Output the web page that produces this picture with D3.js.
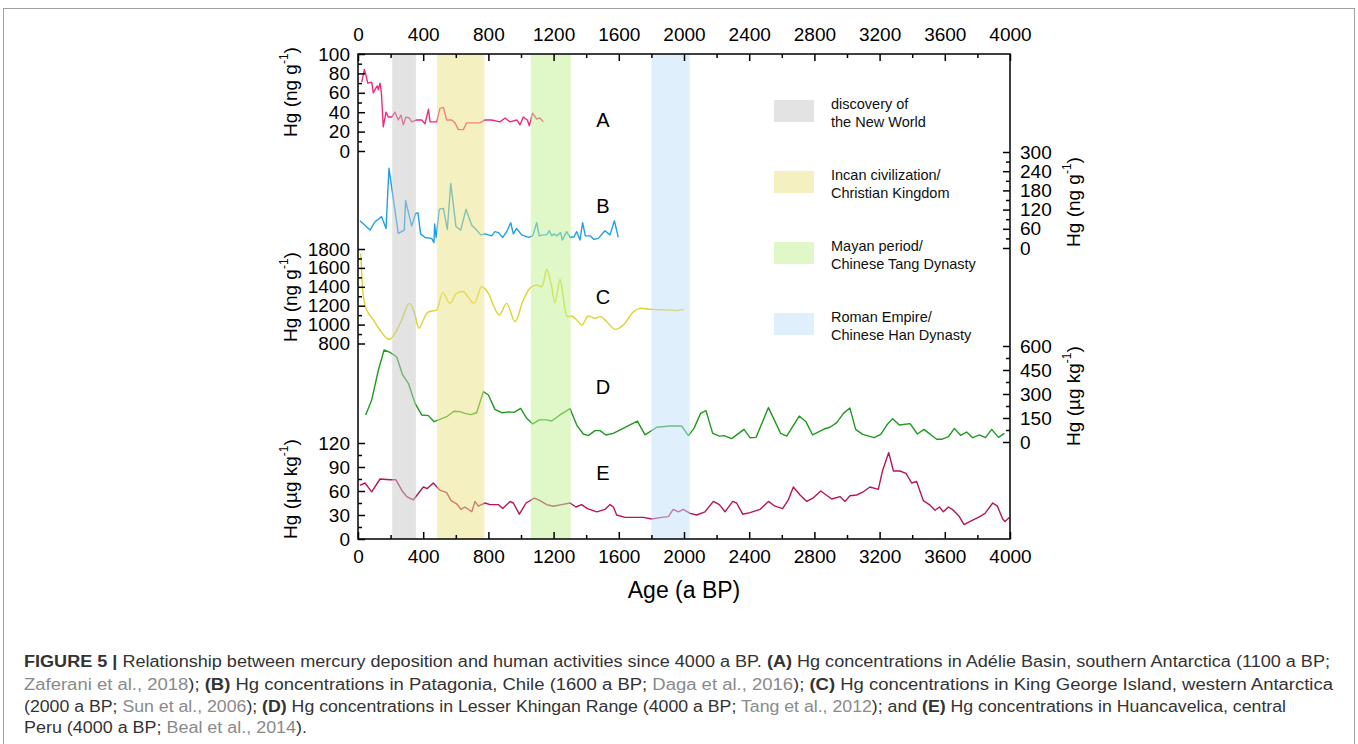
<!DOCTYPE html>
<html>
<head>
<meta charset="utf-8">
<script src="https://cdn.jsdelivr.net/npm/d3@7"></script>
<style>
  body { margin: 0; background: #fff; }
  svg { display: block; }
  text { font-family: Arial, "Liberation Sans", sans-serif; }
</style>
</head>
<body>
<script>
// ages (a BP) and Hg values
const seriesA = [[23,71],[39,84],[49,78],[60,70],[84,71],[94,60],[110,65],[119,67],[125,63],[135,70],[143,61],[155,25],[172,40],[186,35],[207,35],[227,40],[247,32],[264,37],[278,27],[294,35],[315,34],[329,30],[360,32],[391,32],[411,28],[432,43],[442,30],[483,30],[503,44],[524,45],[544,32],[575,32],[595,29],[616,22],[646,22],[667,29],[748,29],[779,32],[820,32],[871,30],[902,34],[933,30],[974,32],[994,27],[1014,35],[1039,32],[1051,26],[1071,39],[1096,33],[1116,34],[1137,30]];
const seriesB = [[12,85],[74,56],[104,82],[145,98],[172,61],[190,249],[247,46],[284,56],[292,148],[329,69],[354,108],[368,110],[384,44],[411,33],[452,30],[466,17],[470,75],[479,33],[499,121],[524,124],[548,58],[569,202],[601,67],[630,56],[663,121],[697,72],[728,56],[753,41],[779,44],[820,38],[840,51],[861,48],[888,33],[912,51],[937,79],[953,44],[973,61],[1004,41],[1045,33],[1072,38],[1096,79],[1112,38],[1137,41],[1157,41],[1174,54],[1188,38],[1202,44],[1219,38],[1243,48],[1254,25],[1280,51],[1301,33],[1325,35],[1342,51],[1362,25],[1378,79],[1395,38],[1423,38],[1448,27],[1475,30],[1515,54],[1546,41],[1573,85],[1597,33]];
const seriesC = [[17,1754],[23,1543],[33,1295],[53,1154],[94,1049],[135,943],[176,855],[200,848],[227,908],[268,1049],[315,1225],[344,1136],[374,961],[401,1049],[425,1126],[462,1147],[483,1154],[520,1338],[564,1225],[605,1331],[646,1348],[712,1225],[759,1401],[800,1331],[834,1189],[867,1102],[912,1225],[963,1031],[1014,1260],[1060,1395],[1096,1419],[1127,1401],[1158,1585],[1184,1437],[1209,1232],[1239,1479],[1256,1331],[1284,1084],[1311,1091],[1342,1049],[1373,996],[1413,1091],[1454,1067],[1489,1084],[1526,1031],[1577,950],[1628,996],[1690,1136],[1730,1172],[1791,1162],[1914,1154],[1960,1150],[1985,1160],[2000,1150]];
const seriesD = [[47,169],[84,262],[125,450],[160,575],[200,558],[237,533],[274,419],[309,367],[350,242],[391,169],[432,165],[466,127],[503,142],[544,158],[589,192],[626,190],[656,179],[691,171],[728,183],[769,315],[800,294],[840,204],[882,183],[928,188],[957,185],[998,210],[1035,148],[1072,113],[1112,138],[1158,138],[1188,131],[1239,169],[1301,208],[1342,106],[1382,50],[1413,40],[1454,71],[1485,71],[1521,44],[1566,54],[1714,131],[1761,44],[1833,92],[1914,100],[1985,100],[2027,40],[2061,85],[2102,179],[2135,196],[2176,54],[2217,37],[2245,40],[2292,21],[2368,79],[2405,27],[2442,29],[2518,215],[2593,54],[2630,37],[2707,162],[2748,127],[2789,44],[2859,81],[2896,92],[2937,121],[2978,179],[3018,212],[3053,79],[3096,48],[3166,27],[3207,48],[3244,106],[3280,146],[3321,106],[3387,115],[3432,50],[3472,79],[3550,17],[3581,17],[3622,33],[3659,85],[3697,42],[3734,62],[3771,27],[3812,44],[3849,27],[3888,79],[3929,29],[3966,54]];
const seriesE = [[12,67],[43,70],[84,59],[135,75],[196,74],[233,74],[268,61],[299,53],[340,49],[401,65],[425,63],[462,70],[503,61],[544,58],[571,48],[605,44],[632,37],[656,40],[698,34],[718,47],[738,41],[779,45],[810,43],[861,43],[888,38],[933,47],[953,45],[990,31],[1031,45],[1082,51],[1117,48],[1158,43],[1199,41],[1249,43],[1301,45],[1337,40],[1372,43],[1407,38],[1465,34],[1515,37],[1546,43],[1567,40],[1587,30],[1638,27],[1699,27],[1751,27],[1802,25],[1863,27],[1904,28],[1934,37],[1965,34],[1996,37],[2037,32],[2078,30],[2129,34],[2180,47],[2217,43],[2252,34],[2299,47],[2323,45],[2360,31],[2405,33],[2466,37],[2518,47],[2558,41],[2605,38],[2640,49],[2671,65],[2712,55],[2753,47],[2790,51],[2839,60],[2906,50],[2957,53],[2988,47],[3018,54],[3059,55],[3100,59],[3141,65],[3192,62],[3219,86],[3256,108],[3285,85],[3325,85],[3362,82],[3397,70],[3427,72],[3468,48],[3505,43],[3540,36],[3567,40],[3591,34],[3622,40],[3652,36],[3689,28],[3718,18],[3765,23],[3806,27],[3847,32],[3894,45],[3923,41],[3955,25],[3969,22],[3996,27]];

const ageTicks = d3.range(0, 4001, 400);
const ticksA = [0, 20, 40, 60, 80, 100];
const ticksB = [0, 60, 120, 180, 240, 300];
const ticksC = [800, 1000, 1200, 1400, 1600, 1800];
const ticksD = [0, 150, 300, 450, 600];
const ticksE = [0, 30, 60, 90, 120];

const periodNames = [["discovery of", "the New World"], ["Incan civilization/", "Christian Kingdom"], ["Mayan period/", "Chinese Tang Dynasty"], ["Roman Empire/", "Chinese Han Dynasty"]];
const periodStart = [210, 485, 1060, 1800];
const periodEnd = [355, 775, 1305, 2035];

const captionLines = [
  [["FIGURE 5 | ", "b"], ["Relationship between mercury deposition and human activities since 4000 a BP. ", "n"], ["(A)", "b"], [" Hg concentrations in Adélie Basin, southern Antarctica (1100 a BP;", "n"]],
  [["Zaferani et al., 2018", "c"], ["); ", "n"], ["(B)", "b"], [" Hg concentrations in Patagonia, Chile (1600 a BP; ", "n"], ["Daga et al., 2016", "c"], ["); ", "n"], ["(C)", "b"], [" Hg concentrations in King George Island, western Antarctica", "n"]],
  [["(2000 a BP; ", "n"], ["Sun et al., 2006", "c"], ["); ", "n"], ["(D)", "b"], [" Hg concentrations in Lesser Khingan Range (4000 a BP; ", "n"], ["Tang et al., 2012", "c"], ["); and ", "n"], ["(E)", "b"], [" Hg concentrations in Huancavelica, central", "n"]],
  [["Peru (4000 a BP; ", "n"], ["Beal et al., 2014", "c"], [").", "n"]]
];

const W = 1358, H = 744;
const svg = d3.select("body").append("svg").attr("width", W).attr("height", H);

// outer frame
svg.append("rect")
  .attr("x", 3.5).attr("y", 8.5).attr("width", 1351).attr("height", 780)
  .attr("fill", "none").attr("stroke", "#a0a0a0").attr("stroke-width", 1);

const plotL = 358, plotR = 1010, plotT = 54, plotB = 539;
const x = d3.scaleLinear().domain([0, 4000]).range([plotL, plotR]);
const yA = d3.scaleLinear().domain([0, 100]).range([151, 54]);
const yB = d3.scaleLinear().domain([0, 300]).range([248, 152]);
const yC = d3.scaleLinear().domain([800, 1800]).range([343.5, 249]);
const yD = d3.scaleLinear().domain([0, 600]).range([442, 346]);
const yE = d3.scaleLinear().domain([0, 120]).range([539, 443]);

function drawSeries(data, y, color, curve) {
  const line = d3.line()
    .x(d => x(d[0]))
    .y(d => y(d[1]))
    .curve(curve || d3.curveLinear);
  svg.append("path")
    .datum(data)
    .attr("d", line)
    .attr("fill", "none")
    .attr("stroke", color)
    .attr("stroke-width", 1.4)
    .attr("stroke-linejoin", "round");
}

drawSeries(seriesA, yA, "#ee2a7b");
drawSeries(seriesB, yB, "#1f9fe8");
drawSeries(seriesC, yC, "#dcd32c", d3.curveCatmullRom);
drawSeries(seriesD, yD, "#1f9a1f");
drawSeries(seriesE, yE, "#b3165f");

// shaded periods sit over the curves, half transparent
const bandColors = ["#c7c7c7", "rgb(235,225,129)", "rgb(193,239,145)", "rgb(191,225,249)"];
svg.selectAll(".band")
  .data(periodStart)
  .enter()
  .append("rect")
  .attr("class", "band")
  .attr("x", d => x(d))
  .attr("width", (d, i) => x(periodEnd[i]) - x(d))
  .attr("y", plotT)
  .attr("height", plotB - plotT)
  .attr("fill", (d, i) => bandColors[i])
  .attr("opacity", 0.5);

// frame
svg.append("rect")
  .attr("x", plotL).attr("y", plotT)
  .attr("width", plotR - plotL).attr("height", plotB - plotT)
  .attr("fill", "none").attr("stroke", "#000").attr("stroke-width", 1.5);

function styleAxis(g) {
  g.select(".domain").remove();
  g.attr("font-family", "Arial, 'Liberation Sans', sans-serif").attr("font-size", 19);
  g.selectAll("line").attr("stroke-width", 1.5);
  g.selectAll("text").attr("fill", "#000");
}

function addAxis(axisFn, scale, majors, step, pad, translate) {
  const minors = [];
  for (let i = 0; i < majors.length - 1; i++) minors.push(majors[i] + step);
  svg.append("g").attr("transform", translate)
    .call(axisFn(scale).tickValues(minors).tickSize(-4).tickFormat(""))
    .call(styleAxis);
  svg.append("g").attr("transform", translate)
    .call(axisFn(scale).tickValues(majors).tickSize(-7).tickPadding(pad).tickFormat(d3.format("d")))
    .call(styleAxis);
}

addAxis(d3.axisTop, x, ageTicks, 200, 13, `translate(0,${plotT})`);
addAxis(d3.axisBottom, x, ageTicks, 200, 11, `translate(0,${plotB})`);
addAxis(d3.axisLeft, yA, ticksA, 10, 8, `translate(${plotL},0)`);
addAxis(d3.axisLeft, yC, ticksC, 100, 8, `translate(${plotL},0)`);
addAxis(d3.axisLeft, yE, ticksE, 15, 8, `translate(${plotL},0)`);
addAxis(d3.axisRight, yB, ticksB, 30, 10, `translate(${plotR},0)`);
addAxis(d3.axisRight, yD, ticksD, 75, 10, `translate(${plotR},0)`);

// rotated unit labels
function unitLabel(cx, cy, unit) {
  const t = svg.append("text")
    .attr("transform", `translate(${cx},${cy}) rotate(-90)`)
    .attr("text-anchor", "middle")
    .attr("dy", "0.35em")
    .attr("font-size", 19)
    .attr("fill", "#000");
  t.append("tspan").text(`Hg (${unit}`);
  t.append("tspan").attr("font-size", 12).attr("dy", "-0.75em").text("-1");
  t.append("tspan").attr("dy", "0.47em").text(")");
}
unitLabel(290, 92, "ng g");
unitLabel(290, 297, "ng g");
unitLabel(290, 489, "µg kg");
unitLabel(1073, 202, "ng g");
unitLabel(1073, 396, "µg kg");

// series letters
const letters = ["A", "B", "C", "D", "E"];
const letterY = [120, 206, 297, 387, 473];
svg.selectAll(".letter")
  .data(letters)
  .enter()
  .append("text")
  .attr("x", 603)
  .attr("y", (d, i) => letterY[i])
  .attr("dy", "0.35em")
  .attr("text-anchor", "middle")
  .attr("font-size", 20)
  .attr("fill", "#000")
  .text(d => d);

// x title
svg.append("text")
  .attr("x", 684).attr("y", 590).attr("dy", "0.35em")
  .attr("text-anchor", "middle").attr("font-size", 23)
  .attr("fill", "#000")
  .text("Age (a BP)");

// legend
const legendY = [100, 171, 242, 313];
const legend = svg.selectAll(".legend")
  .data(periodNames)
  .enter()
  .append("g")
  .attr("class", "legend")
  .attr("transform", (d, i) => `translate(774,${legendY[i]})`);
legend.append("rect")
  .attr("width", 40).attr("height", 22)
  .attr("fill", (d, i) => bandColors[i])
  .attr("opacity", 0.5);
legend.each(function (d) {
  const g = d3.select(this);
  d.forEach((ln, j) => {
    g.append("text")
      .attr("x", 57)
      .attr("y", 4 + j * 17.5)
      .attr("dy", "0.35em")
      .attr("font-size", 14.5)
      .attr("fill", "#111")
      .text(ln);
  });
});

// caption
const captionY = [667, 690, 712, 733];
const captionW = [1306, 1309, 1262, 283];
captionLines.forEach((segs, i) => {
  const t = svg.append("text")
    .attr("x", 24)
    .attr("y", captionY[i])
    .attr("font-size", 16)
    .attr("textLength", captionW[i])
    .attr("lengthAdjust", "spacingAndGlyphs");
  segs.forEach(s => {
    t.append("tspan")
      .attr("font-weight", s[1] === "b" ? "bold" : "normal")
      .attr("fill", s[1] === "c" ? "#8a8a8a" : "#333")
      .text(s[0]);
  });
});
</script>
</body>
</html>
